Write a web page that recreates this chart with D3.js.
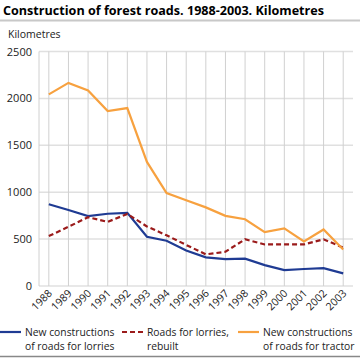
<!DOCTYPE html>
<html>
<head>
<meta charset="utf-8">
<script src="https://cdn.jsdelivr.net/npm/d3@7"></script>
<style>
  body { margin: 0; background: #fff; }
  svg { display: block; font-family: "Open Sans", sans-serif; }
</style>
</head>
<body>
<div id="chart"></div>
<script>
let years = ['1988','1989','1990','1991','1992','1993','1994','1995','1996','1997','1998','1999','2000','2001','2002','2003'];
let lorriesNew = [872, 810, 745, 770, 780, 525, 482, 378, 305, 287, 291, 223, 170, 181, 191, 135];
let lorriesRebuilt = [532, 631, 733, 684, 768, 635, 540, 438, 337, 365, 498, 443, 443, 443, 498, 409];
let tractorNew = [2043, 2165, 2085, 1865, 1897, 1323, 990, 915, 838, 748, 712, 574, 614, 475, 603, 390];
let yTicks = [0, 500, 1000, 1500, 2000, 2500];
let seriesNames = [['New constructions', 'of roads for lorries'], ['Roads for lorries,', 'rebuilt'], ['New constructions', 'of roads for tractor']];

let width = 360, height = 358;
let plotLeft = 39, plotRight = 353, plotTop = 51.5, plotBottom = 286;

let svg = d3.select('#chart').append('svg')
    .attr('width', width)
    .attr('height', height);

// title + rules
svg.append('text')
    .attr('x', 3).attr('y', 15)
    .attr('font-size', '12.6px').attr('font-weight', 'bold')
    .attr('fill', '#000')
    .text('Construction of forest roads. 1988-2003. Kilometres');

svg.append('line')
    .attr('x1', 0).attr('x2', width).attr('y1', 20.5).attr('y2', 20.5)
    .attr('stroke', '#c8c8c8').attr('stroke-width', 2);

svg.append('line')
    .attr('x1', 0).attr('x2', width).attr('y1', 356.5).attr('y2', 356.5)
    .attr('stroke', '#888').attr('stroke-width', 1.5);

svg.append('text')
    .attr('x', 8).attr('y', 38)
    .attr('font-size', '10.5px').attr('fill', '#222')
    .text('Kilometres');

let x = d3.scalePoint().domain(years).range([plotLeft, plotRight]).padding(0.5);
let y = d3.scaleLinear().domain([0, 2500]).range([plotBottom, plotTop]);

// horizontal grid
svg.append('g').selectAll('line')
    .data(yTicks)
    .join('line')
    .attr('x1', plotLeft).attr('x2', plotRight)
    .attr('y1', d => y(d)).attr('y2', d => y(d))
    .attr('stroke', '#e0e0e0').attr('stroke-width', 1.5);

// vertical grid
svg.append('g').selectAll('line')
    .data(years)
    .join('line')
    .attr('x1', d => x(d)).attr('x2', d => x(d))
    .attr('y1', plotTop).attr('y2', plotBottom)
    .attr('stroke', '#d0d0d0').attr('stroke-width', 1);

svg.append('line')
    .attr('x1', plotLeft).attr('x2', plotLeft).attr('y1', plotTop).attr('y2', plotBottom)
    .attr('stroke', '#d0d0d0').attr('stroke-width', 1);

// y tick labels
svg.append('g').selectAll('text')
    .data(yTicks)
    .join('text')
    .attr('x', 32).attr('y', d => y(d) + 4)
    .attr('text-anchor', 'end')
    .attr('font-size', '11px').attr('fill', '#222')
    .text(d => d);

// x tick labels
svg.append('g').selectAll('text')
    .data(years)
    .join('text')
    .attr('transform', d => 'translate(' + (x(d) + 4) + ',' + (plotBottom + 8) + ') rotate(-45)')
    .attr('text-anchor', 'end')
    .attr('font-size', '10.5px').attr('fill', '#222')
    .text(d => d);

let line = d3.line()
    .x((d, i) => x(years[i]))
    .y(d => y(d));

let series = [
    { values: lorriesNew, color: '#1f3b93', dash: null },
    { values: lorriesRebuilt, color: '#9b1b1b', dash: '5,3' },
    { values: tractorNew, color: '#f7a13f', dash: null }
];

svg.append('g').selectAll('path')
    .data(series)
    .join('path')
    .attr('d', d => line(d.values))
    .attr('fill', 'none')
    .attr('stroke', d => d.color)
    .attr('stroke-width', 2.2)
    .attr('stroke-dasharray', d => d.dash);

// legend
let legendX = [0, 122, 238];
let lg = svg.append('g').selectAll('g')
    .data(series)
    .join('g')
    .attr('transform', (d, i) => 'translate(' + legendX[i] + ',0)');

lg.append('line')
    .attr('x1', 0).attr('x2', 21).attr('y1', 332).attr('y2', 332)
    .attr('stroke', d => d.color).attr('stroke-width', 2.2)
    .attr('stroke-dasharray', d => d.dash);

lg.append('text')
    .attr('x', 25).attr('y', 336)
    .attr('font-size', '10.3px').attr('fill', '#222')
    .text((d, i) => seriesNames[i][0]);

lg.append('text')
    .attr('x', 25).attr('y', 350)
    .attr('font-size', '10.3px').attr('fill', '#222')
    .text((d, i) => seriesNames[i][1]);
</script>
</body>
</html>
